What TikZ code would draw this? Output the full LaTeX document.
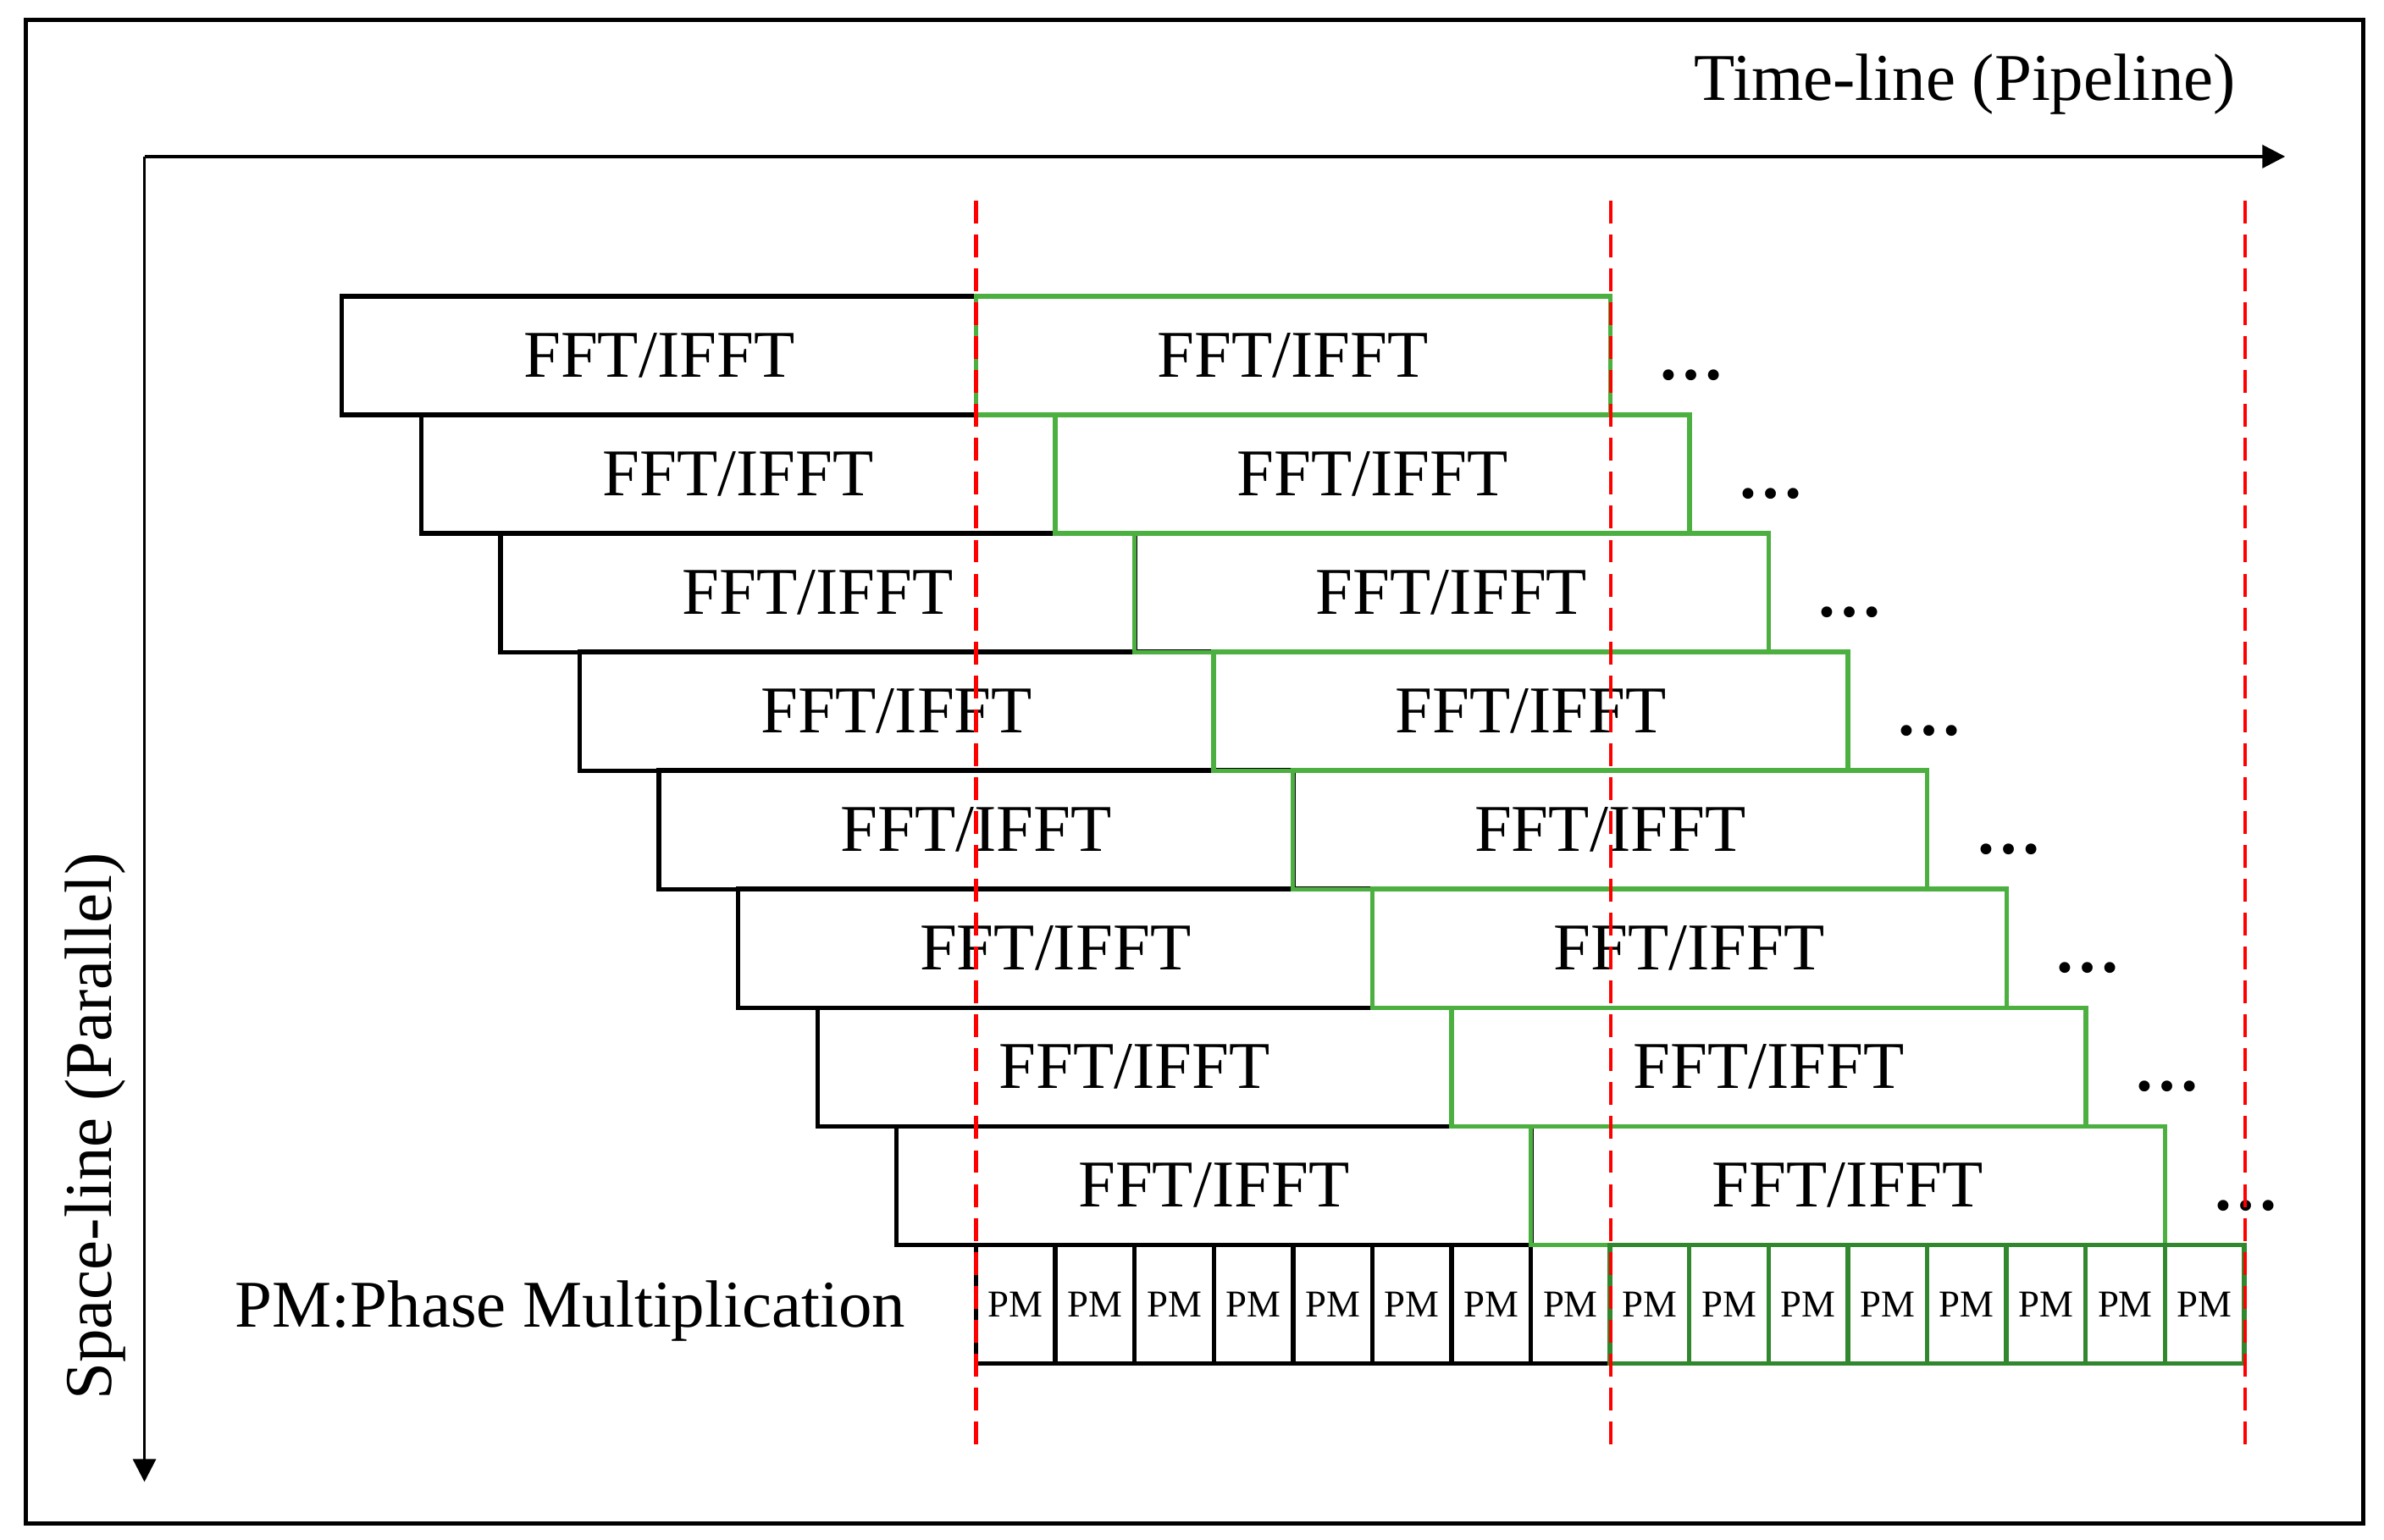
\documentclass[tikz,border=0pt]{standalone}
\usepackage{fontspec}
\setmainfont{Liberation Serif}
\usetikzlibrary{arrows.meta}
\definecolor{lgreen}{RGB}{76,176,64}
\definecolor{dgreen}{RGB}{49,135,45}
\definecolor{lred}{RGB}{255,0,0}
\tikzset{
  fftbox/.style={draw, line width=0.85pt, minimum width=4.17cm, minimum height=0.78cm, inner sep=0pt, font=\fontsize{12.5}{15}\selectfont},
  blkbox/.style={fftbox, draw=black},
  grnbox/.style={fftbox, draw=lgreen},
  pmcell/.style={draw, line width=0.85pt, minimum width=0.52125cm, minimum height=0.78cm, inner sep=0pt, font=\fontsize{7.1}{8.5}\selectfont},
  lab/.style={inner sep=0pt, font=\fontsize{12.5}{15}\selectfont},
  dotlab/.style={inner sep=0pt, font=\fontsize{12.5}{15}\selectfont\bfseries},
  redline/.style={draw=lred, line width=0.7pt, dash pattern=on 0.15cm off 0.073cm},
  axisarrow/.style={line width=0.6pt, -{Triangle[length=0.15cm,width=0.15cm]}}
}
\begin{document}
\begin{tikzpicture}[x=0.01cm,y=-0.01cm]
\useasboundingbox (0,0) rectangle (1568,1013);
% outer frame
\draw[line width=0.8pt] (17,13) rectangle (1554.5,1002.5);
% axes
\coordinate (origin) at (95,103);
\coordinate (xend) at (1503,103);
\coordinate (yend) at (95,975);
\draw[axisarrow] (origin) -- (xend);
\draw[axisarrow, line width=0.5pt] (origin) -- (yend);
\node[lab, anchor=base] (tl) at (1292.5,66) {Time-line (Pipeline)};
\node[lab, anchor=base, rotate=90] (sl) at (73,741) {Space-line (Parallel)};
% black FFT boxes
\foreach \i in {0,...,7}
  \node[blkbox] (b\i) at ({433.5+52.125*\i},{234+78*\i}) {FFT/IFFT};
% black PM cells
\foreach \j in {0,...,7}
  \node[pmcell, draw=black] (p\j) at ({642+52.125*(\j+0.5)},858) {PM};
% green FFT boxes
\foreach \i in {0,...,7}
  \node[grnbox] (g\i) at ({850.5+52.125*\i},{234+78*\i}) {FFT/IFFT};
% dark green PM cells
\foreach \j in {8,...,15}
  \node[pmcell, draw=dgreen] (p\j) at ({642+52.125*(\j+0.5)},858) {PM};
% dots
\foreach \i in {0,...,7}
  \node[dotlab, anchor=base] (d\i) at ({1112.5+52.125*\i},{250+78*\i}) {…};
% legend
\node[lab, anchor=base west] (legend) at (154,873) {PM:Phase Multiplication};
% red dashed lines
\coordinate (r1t) at (642,132); \coordinate (r1b) at (642,956);
\coordinate (r2t) at (1059.5,132); \coordinate (r2b) at (1059.5,956);
\coordinate (r3t) at (1476.5,132); \coordinate (r3b) at (1476.5,956);
\draw[redline] (r1t) -- (r1b);
\draw[redline] (r2t) -- (r2b);
\draw[redline] (r3t) -- (r3b);
\end{tikzpicture}
\end{document}
